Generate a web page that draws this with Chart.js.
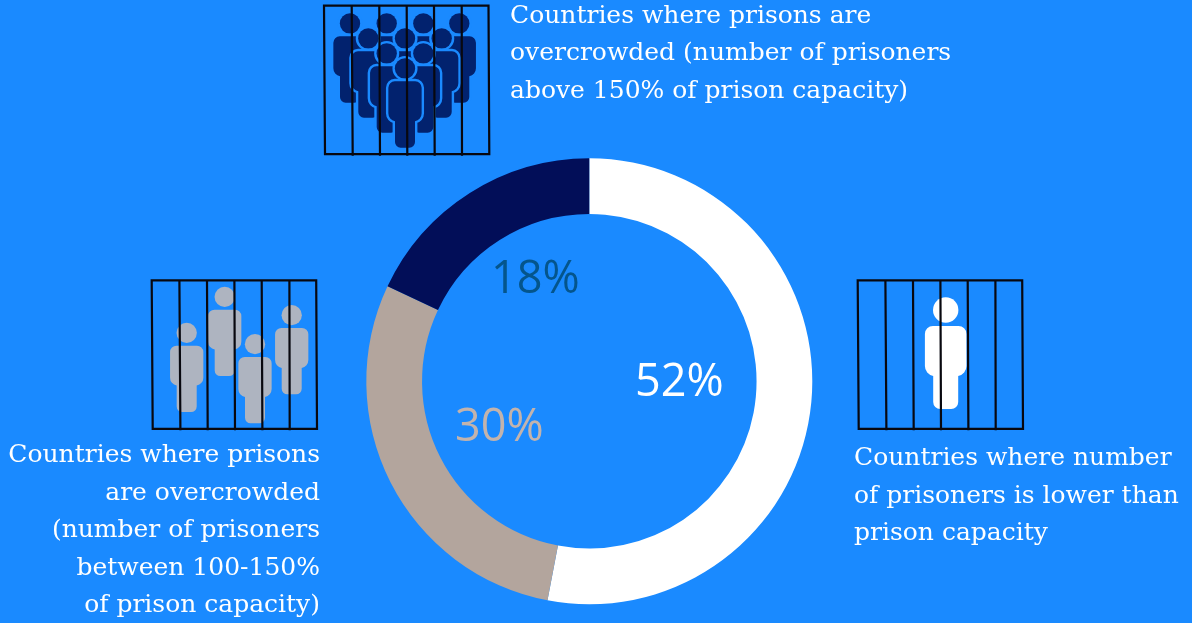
<!DOCTYPE html>
<html>
<head>
<meta charset="utf-8">
<script src="https://cdn.jsdelivr.net/npm/chart.js@4"></script>
<style>
  html, body { margin: 0; padding: 0; background: #1a8aff; overflow: hidden; }
  #stage { position: relative; width: 1192px; height: 623px; }
  #chart, #icons { position: absolute; left: 0; top: 0; }
  .caption {
    position: absolute;
    color: #fff;
    font-family: "DejaVu Serif", serif;
    font-size: 25px;
    line-height: 37.6px;
    white-space: nowrap;
  }
</style>
</head>
<body>
<div id="stage">
  <svg id="icons" width="1192" height="623" xmlns="http://www.w3.org/2000/svg">
    <defs>
      <g id="person">
        <circle cx="0" cy="12.7" r="12.7"/>
        <path d="M-12.8 28.7H12.8a8 8 0 0 1 8 8V68.7a10 10 0 0 1-8.3 9.9V104.7a7 7 0 0 1-7 7H-5.5a7 7 0 0 1-7-7V78.6a10 10 0 0 1-8.3-9.9V36.7a8 8 0 0 1 8-8Z"/>
      </g>
      <g id="cage" fill="none" stroke="#08080f" stroke-width="2.2">
        <path d="M0 0H164.5L165.3 148.5H1Z"/>
        <path d="M27.7 0L28.7 150M55.3 0L56 150M82.7 0L83.3 150M110 0L110.7 150M137.7 0L138 150"/>
      </g>
    </defs>

    <g fill="#02226e" stroke="#1a8aff" stroke-width="6" paint-order="stroke">
      <use href="#person" transform="translate(350 13.3) scale(.8)"/>
      <use href="#person" transform="translate(386.7 13.3) scale(.8)"/>
      <use href="#person" transform="translate(423.3 13.3) scale(.8)"/>
      <use href="#person" transform="translate(459.3 13.3) scale(.8)"/>
      <use href="#person" transform="translate(368.3 28.3) scale(.8)"/>
      <use href="#person" transform="translate(405 28.3) scale(.8)"/>
      <use href="#person" transform="translate(441.7 28.3) scale(.8)"/>
      <use href="#person" transform="translate(386.7 43.3) scale(.8)"/>
      <use href="#person" transform="translate(423.3 43.3) scale(.8)"/>
      <use href="#person" transform="translate(405 58.3) scale(.8)"/>
    </g>
    <use href="#cage" x="324" y="5.7"/>

    <g fill="#aeb4c0">
      <use href="#person" transform="translate(186.7 322.7) scale(.8)"/>
      <use href="#person" transform="translate(224.7 286.7) scale(.8)"/>
      <use href="#person" transform="translate(255 334) scale(.8)"/>
      <use href="#person" transform="translate(291.7 305) scale(.8)"/>
    </g>
    <use href="#cage" x="151.7" y="280.3"/>

    <use href="#person" fill="#fff" transform="translate(945.7 297.3)"/>
    <use href="#cage" x="857.7" y="280.3"/>
  </svg>

  <canvas id="chart" width="1192" height="623"></canvas>

  <div class="caption" style="left:510px; top:-4.5px;">Countries where prisons are<br>overcrowded (number of prisoners<br>above 150% of prison capacity)</div>
  <div class="caption" style="right:872px; top:435px; text-align:right;">Countries where prisons<br>are overcrowded<br>(number of prisoners<br>between 100-150%<br>of prison capacity)</div>
  <div class="caption" style="left:854px; top:438px;">Countries where number<br>of prisoners is lower than<br>prison capacity</div>
</div>

<script>
// slices start at 12 o'clock and run clockwise
const categories = ['Prisoners below capacity', 'Prisoners at 100-150% of capacity', 'Prisoners above 150% of capacity'];
// arc sizes as drawn in the picture, the printed labels say 52 / 30 / 18
const sliceValues = [53, 29, 18];
const percentLabels = ['52%', '30%', '18%'];

const sliceColors = ['#ffffff', '#b3a59d', '#020e58'];
const labelColors = ['#ffffff', '#c2b3ad', '#04558c'];
// label anchors, as offsets from the middle of the ring
const labelOffsets = [[90, 15], [-90, 60], [-54, -88]];

const percentLabelsPlugin = {
    id: 'percentLabels',
    afterDatasetsDraw(chart) {
        const arc = chart.getDatasetMeta(0).data[0];
        const ctx = chart.ctx;
        ctx.save();
        ctx.font = '45px "Open Sans"';
        ctx.textAlign = 'center';
        ctx.textBaseline = 'alphabetic';
        percentLabels.forEach((text, i) => {
            ctx.fillStyle = labelColors[i];
            ctx.fillText(text, arc.x + labelOffsets[i][0], arc.y + labelOffsets[i][1]);
        });
        ctx.restore();
    }
};

new Chart(document.getElementById('chart'), {
    type: 'doughnut',
    data: {
        labels: categories,
        datasets: [{
            data: sliceValues,
            backgroundColor: sliceColors,
            borderWidth: 0
        }]
    },
    options: {
        responsive: false,
        animation: false,
        cutout: '75%',
        layout: { padding: { left: 366.3, right: 379.7, top: 158.3, bottom: 18.7 } },
        plugins: {
            legend: { display: false },
            tooltip: { enabled: false }
        }
    },
    plugins: [percentLabelsPlugin]
});
</script>
</body>
</html>
